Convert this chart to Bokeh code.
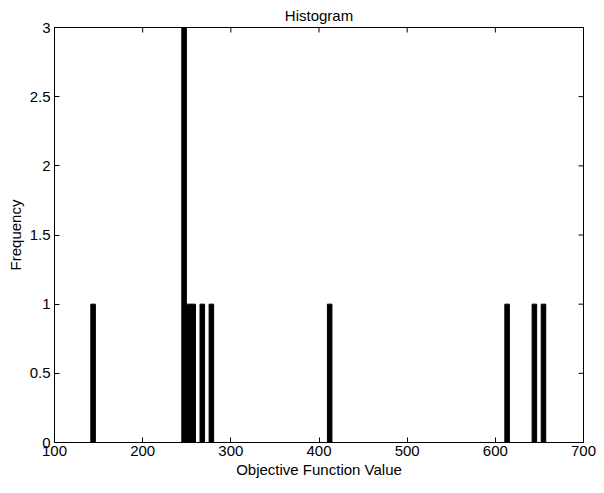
import math
from bokeh.plotting import figure
from bokeh.models import FixedTicker, Range1d, ColumnDataSource, Title
from bokeh.embed import file_html
from bokeh.resources import INLINE

# Histogram data (100 bins between min and max objective value)
bin_centers = [143.78, 246.98, 252.14, 257.30, 267.62, 277.94, 412.10, 613.34, 644.30, 654.62]
counts = [1, 3, 1, 1, 1, 1, 1, 1, 1, 1]
bin_width = 5.16

x_ticks = [100, 200, 300, 400, 500, 600, 700]
y_ticks = [0, 0.5, 1, 1.5, 2, 2.5, 3]
x_min, x_max = 100, 700
y_min, y_max = 0, 3

FONT = "Liberation Sans"
FS = "15px"

p = figure(width=596, height=485, output_backend="svg", toolbar_location=None,
           x_range=Range1d(x_min, x_max), y_range=Range1d(y_min, y_max),
           title="Histogram", min_border_left=54, min_border_right=13,
           min_border_top=25, min_border_bottom=43)

src = ColumnDataSource(dict(x=bin_centers, top=counts))
p.vbar(x="x", top="top", bottom=0, width=bin_width, source=src,
       fill_color="black", line_color="black", line_width=1)

# inward ticks on the top and right edges of the box
p.ray(x=x_ticks, y=[y_max] * len(x_ticks), length=5, length_units="screen",
      angle=-math.pi / 2, line_color="black", line_width=1)
p.ray(x=[x_max] * len(y_ticks), y=y_ticks, length=5, length_units="screen",
      angle=math.pi, line_color="black", line_width=1)

p.title.align = "center"
p.title.text_font = FONT
p.title.text_font_size = FS
p.title.text_font_style = "normal"
p.title.text_color = "black"
p.title.standoff = 8

p.grid.visible = False
p.outline_line_color = "black"
p.outline_line_width = 1
p.outline_line_alpha = 1
p.background_fill_color = "white"
p.border_fill_color = "white"

for ax in (p.xaxis[0], p.yaxis[0]):
    ax.major_tick_in = 5
    ax.major_tick_out = 0
    ax.minor_tick_line_color = None
    ax.axis_line_color = "black"
    ax.major_tick_line_color = "black"
    ax.major_label_text_font = FONT
    ax.major_label_text_font_size = FS
    ax.major_label_text_color = "black"
    ax.axis_label_text_font = FONT
    ax.axis_label_text_font_size = FS
    ax.axis_label_text_font_style = "normal"
    ax.axis_label_text_color = "black"

p.xaxis[0].ticker = FixedTicker(ticks=x_ticks)
p.yaxis[0].ticker = FixedTicker(ticks=y_ticks)
p.xaxis[0].axis_label = "Objective Function Value"
p.xaxis[0].major_label_standoff = 3
p.yaxis[0].major_label_standoff = 4
p.xaxis[0].axis_label_standoff = 2
p.yaxis[0].major_label_overrides = {0: "0", 0.5: "0.5", 1: "1", 1.5: "1.5", 2: "2", 2.5: "2.5", 3: "3"}

ytitle = Title(text="Frequency", align="center", text_font=FONT, text_font_size=FS,
               text_font_style="normal", text_color="black", standoff=6)
p.add_layout(ytitle, "left")

open("out.html", "w").write(file_html(p, INLINE))
